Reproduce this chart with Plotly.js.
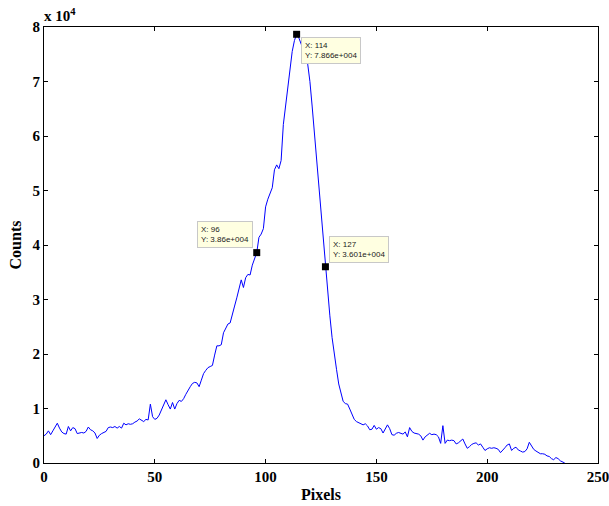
<!DOCTYPE html>
<html>
<head>
<meta charset="utf-8">
<script src="https://cdn.plot.ly/plotly-3.0.1.min.js"></script>
<style>
html,body{margin:0;padding:0;background:#fff;}
#chart{width:609px;height:506px;}
</style>
</head>
<body>
<div id="chart"></div>
<script>
// Pixel index 0..235
const pixels = Array.from({length: 236}, (_, i) => i);
// Counts (one value per pixel)
const counts = [
 5000, 5300, 5900, 5200, 5900, 6700, 7300, 6400, 5700, 5400,
 5300, 6700, 5900, 6500, 6300, 5400, 5500, 5600, 5500, 5800,
 6600, 6100, 5900, 5500, 4500, 5100, 5400, 5600, 5800, 6500,
 6600, 6500, 6700, 6400, 6700, 6400, 7300, 7000, 7200, 7100,
 7200, 7500, 7700, 8100, 7900, 7600, 8000, 7900, 10800, 8500,
 8000, 8200, 8800, 9700, 10500, 11600, 10700, 9900, 11100, 9900,
 10900, 11500, 11300, 11800, 12600, 13400, 14000, 14600, 14800, 14700,
 14000, 15200, 16400, 17000, 17500, 17700, 17900, 19800, 21500, 21500,
 21700, 23900, 24800, 25500, 25700, 27500, 28800, 30300, 32000, 33600,
 32200, 34000, 34600, 34500, 36300, 37400, 38600, 41400, 42000, 43000,
 47000, 48400, 49300, 50500, 53800, 54700, 54000, 55500, 62100, 65500,
 69000, 72500, 75500, 77500, 78660, 78000, 77000, 75800, 74800, 73200,
 70000, 65500, 60500, 56500, 52000, 46000, 41000, 36010, 31000, 27000,
 23000, 19500, 17200, 14500, 12800, 11300, 10900, 10800, 9900, 9000,
 8000, 7600, 7400, 7100, 7000, 7200, 6800, 6100, 6200, 6900,
 6200, 6500, 6300, 5500, 6200, 7000, 6300, 5200, 5100, 5450,
 5600, 5500, 5300, 5700, 4800, 6500, 5800, 5500, 5400, 5300,
 5000, 4200, 4800, 5100, 5450, 5200, 5300, 5200, 4800, 3600,
 6850, 3600, 4200, 4100, 4200, 4100, 3500, 3700, 4000, 4400,
 3500, 2700, 3000, 3400, 3600, 3700, 3300, 3500, 2900, 2300,
 2600, 2800, 2700, 2800, 2700, 2500, 1900, 2300, 2800, 3300,
 3500, 2300, 2700, 2900, 2400, 2200, 2000, 2100, 2600, 3800,
 3200, 2500, 2200, 2000, 1700, 1700, 1600, 1300, 1200, 800,
 600, 1000, 800, 400, 200, 0
];
// Data tips
const tipX = [96, 114, 127];
const tipY = [38600, 78660, 36010];
const tipText = ["X: 96<br>Y: 3.86e+004", "X: 114<br>Y: 7.866e+004", "X: 127<br>Y: 3.601e+004"];
const xTicks = [0, 50, 100, 150, 200, 250];
const yTicks = [0, 10000, 20000, 30000, 40000, 50000, 60000, 70000, 80000];
const yTickText = ["0", "1", "2", "3", "4", "5", "6", "7", "8"];

const serifFamily = "Liberation Serif, Times New Roman, serif";
const serif = {family: serifFamily, size: 15, color: "#000", weight: "bold"};

const traces = [
  {x: pixels, y: counts, type: "scatter", mode: "lines",
   line: {color: "#0000ff", width: 1}, hoverinfo: "skip"},
  {x: tipX, y: tipY, type: "scatter", mode: "markers",
   marker: {symbol: "square", size: 7, color: "#000", line: {color: "#000", width: 0}}, hoverinfo: "skip"}
];

const tipAnchor = [
  {xanchor: "right", yanchor: "bottom", xshift: -4, yshift: 5},
  {xanchor: "left", yanchor: "top", xshift: 4, yshift: -3},
  {xanchor: "left", yanchor: "bottom", xshift: 4, yshift: 4}
];
const annotations = tipX.map((x, i) => Object.assign({
  x: x, y: tipY[i], xref: "x", yref: "y", text: tipText[i], showarrow: false,
  align: "left", bgcolor: "#ffffe1", bordercolor: "#c8c8c8", borderwidth: 1, borderpad: 3,
  font: {family: "Liberation Sans, Arial, sans-serif", size: 8, color: "#222", weight: "normal"}
}, tipAnchor[i]));
annotations.push({
  xref: "paper", yref: "paper", x: 0, y: 1, xanchor: "left", yanchor: "bottom", yshift: 1, xshift: -2,
  text: "x 10<sup>4</sup>", showarrow: false,
  font: {family: serifFamily, size: 15, color: "#000", weight: "bold"}
});

const layout = {
  width: 609, height: 506,
  margin: {l: 44, r: 11, t: 27, b: 43},
  paper_bgcolor: "#fff", plot_bgcolor: "#fff",
  showlegend: false,
  font: serif,
  xaxis: {
    range: [0, 250], tickvals: xTicks, ticktext: xTicks.map(String),
    ticks: "inside", ticklen: 4, tickcolor: "#000", tickwidth: 1,
    showline: true, linecolor: "#000", linewidth: 1, mirror: "ticks",
    showgrid: false, zeroline: false, tickfont: serif, ticklabeloverflow: "allow",
    title: {text: "Pixels", font: {family: serifFamily, size: 16, color: "#000", weight: "bold"}, standoff: 4}
  },
  yaxis: {
    range: [0, 80000], tickvals: yTicks, ticktext: yTickText,
    ticks: "inside", ticklen: 4, tickcolor: "#000", tickwidth: 1,
    showline: true, linecolor: "#000", linewidth: 1, mirror: "ticks",
    showgrid: false, zeroline: false, tickfont: serif, ticklabeloverflow: "allow",
    title: {text: "Counts", font: {family: serifFamily, size: 16, color: "#000", weight: "bold"}, standoff: 6}
  },
  annotations: annotations
};

Plotly.newPlot("chart", traces, layout, {displayModeBar: false, staticPlot: true});
</script>
</body>
</html>
